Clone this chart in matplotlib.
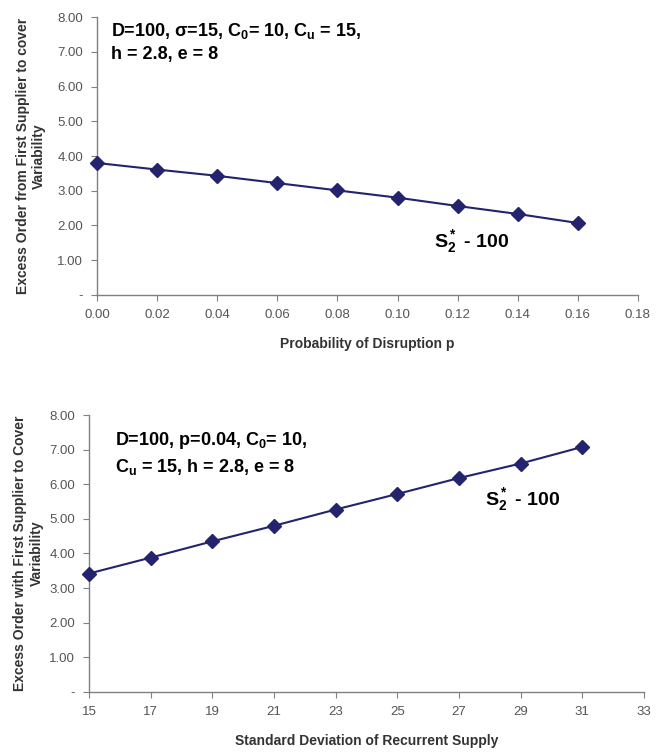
import matplotlib.pyplot as plt
import matplotlib.ticker as mticker
import numpy as np

plt.rcParams['font.family'] = ['Liberation Sans', 'DejaVu Sans']
plt.rcParams['mathtext.fontset'] = 'custom'
plt.rcParams['mathtext.bf'] = 'Liberation Sans:bold'
plt.rcParams['mathtext.rm'] = 'Liberation Sans'
plt.rcParams['mathtext.default'] = 'bf'

# data
p_vals = [0.00, 0.02, 0.04, 0.06, 0.08, 0.10, 0.12, 0.14, 0.16]
excess_p = [3.80, 3.61, 3.43, 3.22, 3.01, 2.80, 2.56, 2.33, 2.07]

sd_vals = [15, 17, 19, 21, 23, 25, 27, 29, 31]
excess_sd = [3.42, 3.88, 4.35, 4.80, 5.27, 5.72, 6.18, 6.60, 7.08]

y_ticks = [0, 1, 2, 3, 4, 5, 6, 7, 8]
p_ticks = [0.00, 0.02, 0.04, 0.06, 0.08, 0.10, 0.12, 0.14, 0.16, 0.18]
sd_ticks = [15, 17, 19, 21, 23, 25, 27, 29, 31, 33]

line_col = '#23236e'
axis_col = '#808080'
text_col = '#333333'

fig = plt.figure(figsize=(6.67, 7.52), dpi=100)
ax1 = fig.add_axes([0.1454, 0.608, 0.811, 0.369])
ax2 = fig.add_axes([0.1334, 0.080, 0.832, 0.368])


def yfmt(v, pos):
    return '-' if abs(v) < 1e-9 else '%.2f' % v


def style(ax):
    for s in ['top', 'right']:
        ax.spines[s].set_visible(False)
    for s in ['left', 'bottom']:
        ax.spines[s].set_color(axis_col)
        ax.spines[s].set_linewidth(1.0)
    ax.tick_params(direction='out', length=4, color=axis_col,
                   labelsize=9.5, labelcolor='#555555', pad=6)
    ax.set_ylim(0, 8)
    ax.set_yticks(y_ticks)
    ax.yaxis.set_major_formatter(mticker.FuncFormatter(yfmt))


# top panel
ax1.plot(p_vals, excess_p, color=line_col, marker='D', markersize=7,
         linewidth=1.5, clip_on=False, zorder=3)
style(ax1)
ax1.set_xlim(0, 0.18)
ax1.set_xticks(p_ticks)
ax1.xaxis.set_major_formatter(mticker.FormatStrFormatter('%.2f'))
ax1.set_xlabel('Probability of Disruption p', fontsize=10, fontweight='bold',
               color=text_col, labelpad=12)
ax1.set_ylabel('Excess Order from First Supplier to cover\nVariability',
               fontsize=10, fontweight='bold', color=text_col, labelpad=8)
ax1.text(0.026, 0.985, 'D=100, \u03c3=15, C$_0$= 10, C$_u$ = 15,\nh = 2.8, e = 8',
         transform=ax1.transAxes, fontsize=13, fontweight='bold', va='top',
         linespacing=1.35)
ax1.text(0.112, 1.38, r'S$_2^*$ - 100', fontsize=14, fontweight='bold')

# bottom panel
ax2.plot(sd_vals, excess_sd, color=line_col, marker='D', markersize=7,
         linewidth=1.5, clip_on=False, zorder=3)
style(ax2)
ax2.set_xlim(15, 33)
ax2.set_xticks(sd_ticks)
ax2.set_xlabel('Standard Deviation of Recurrent Supply', fontsize=10,
               fontweight='bold', color=text_col, labelpad=12)
ax2.set_ylabel('Excess Order with First Supplier to Cover\nVariability',
               fontsize=10, fontweight='bold', color=text_col, labelpad=4)
ax2.text(0.046, 0.945, 'D=100, p=0.04, C$_0$= 10,\nC$_u$ = 15, h = 2.8, e = 8',
         transform=ax2.transAxes, fontsize=13, fontweight='bold', va='top',
         linespacing=1.35)
ax2.text(27.86, 5.40, r'S$_2^*$ - 100', fontsize=14, fontweight='bold')

fig.savefig('out.png', dpi=100)
